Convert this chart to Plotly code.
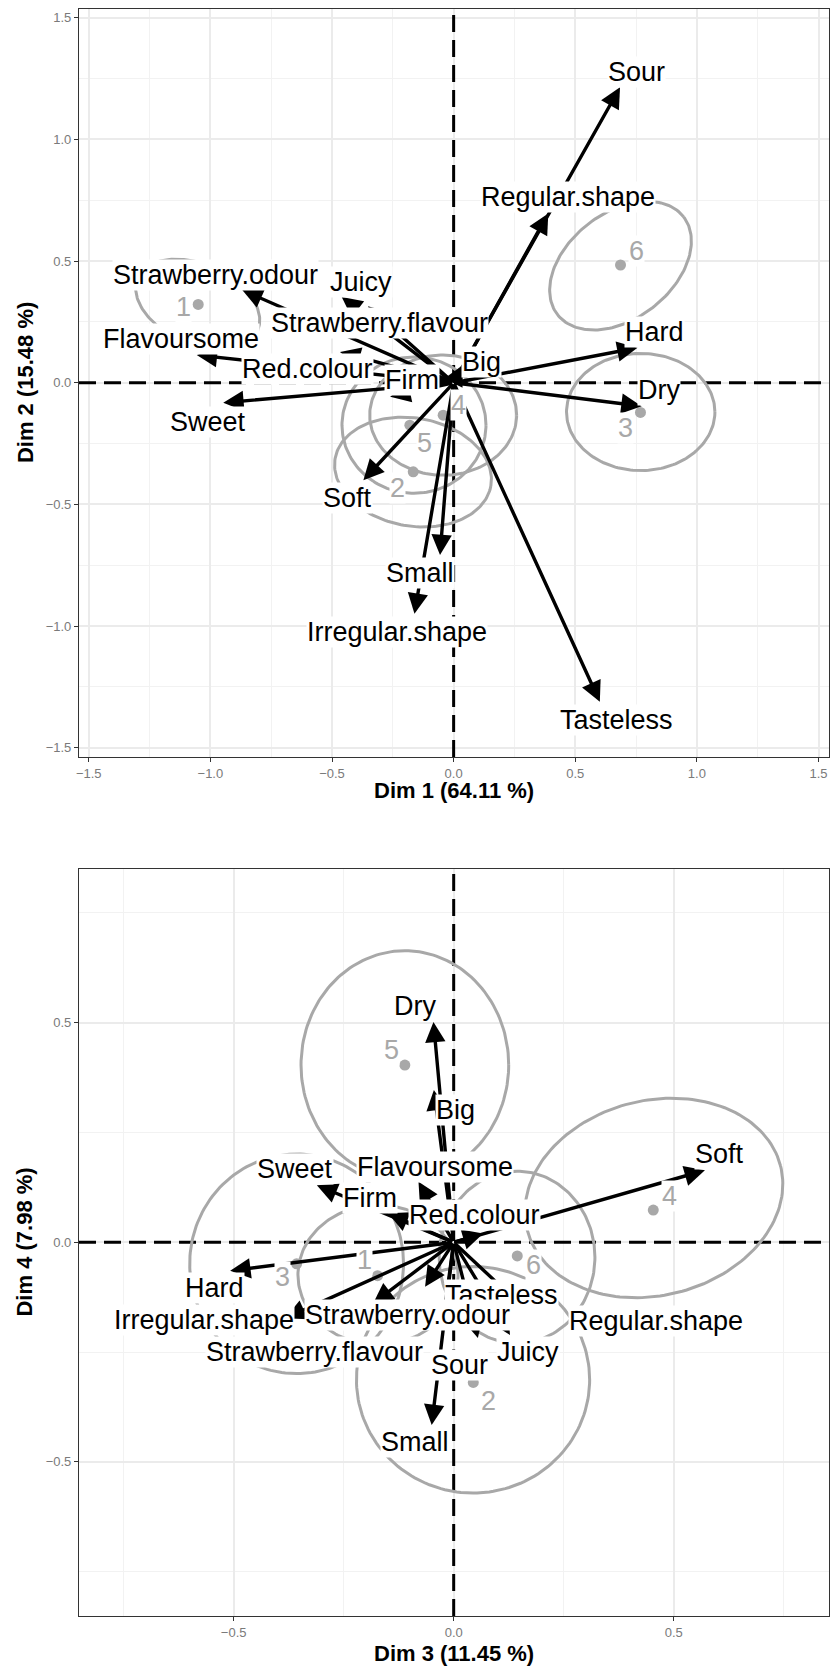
import numpy as np
import plotly.graph_objects as go
from plotly.subplots import make_subplots

# ---------------- data: top plot (Dim 1 / Dim 2) ----------------
variables = ["Sour", "Regular.shape", "Hard", "Dry", "Tasteless", "Small",
             "Irregular.shape", "Soft", "Sweet", "Firm", "Red.colour",
             "Flavoursome", "Strawberry.odour", "Juicy", "Strawberry.flavour", "Big"]

dim1 = [0.684, 0.389, 0.756, 0.773, 0.601, -0.056, -0.161, -0.371, -0.947,
        -0.261, -0.467, -1.056, -0.869, -0.460, -0.352, 0.038]
dim2 = [1.214, 0.696, 0.144, -0.096, -1.311, -0.708, -0.949, -0.400, -0.082,
        -0.057, 0.127, 0.114, 0.381, 0.353, 0.315, 0.073]
lab12_x = [0.752, 0.469, 0.825, 0.844, 0.670, -0.138, -0.234, -0.437, -1.009,
           -0.173, -0.601, -1.121, -0.977, -0.381, -0.303, 0.115]
lab12_y = [1.278, 0.764, 0.207, -0.030, -1.386, -0.782, -1.023, -0.475, -0.160,
           0.011, 0.055, 0.182, 0.443, 0.415, 0.245, 0.086]

products = ["1", "2", "3", "4", "5", "6"]
ind1 = [-1.050, -0.166, 0.768, -0.043, -0.180, 0.686]
ind2 = [0.322, -0.366, -0.122, -0.133, -0.174, 0.484]
plab12_x = [-1.112, -0.232, 0.708, 0.019, -0.121, 0.752]
plab12_y = [0.311, -0.434, -0.187, -0.092, -0.249, 0.543]

ell12_cx = [-1.052, -0.167, 0.769, -0.043, -0.163, 0.686]
ell12_cy = [0.323, -0.367, -0.120, -0.133, -0.174, 0.481]
ell12_a = [0.269, 0.325, 0.305, 0.302, 0.296, 0.328]
ell12_b = [0.164, 0.222, 0.241, 0.247, 0.280, 0.217]
ell12_ang = [-23.7, -10.0, 0.0, 0.0, 0.0, 37.8]

# ---------------- data: bottom plot (Dim 3 / Dim 4) ----------------
dim3 = [-0.027, 0.162, -0.508, -0.046, 0.055, -0.050, -0.383, 0.571, -0.311,
        -0.149, 0.067, -0.080, -0.065, 0.128, -0.183, -0.045]
dim4 = [-0.200, -0.152, -0.065, 0.502, -0.218, -0.416, -0.173, 0.164, 0.130,
        0.066, 0.020, 0.138, -0.101, -0.211, -0.139, 0.347]
lab34_x = [0.013, 0.460, -0.544, -0.088, 0.109, -0.087, -0.5675, 0.605, -0.361,
           -0.190, 0.048, -0.0425, -0.104, 0.1695, -0.3175, 0.003]
lab34_y = [-0.279, -0.1785, -0.105, 0.538, -0.120, -0.454, -0.177, 0.201, 0.168,
           0.100, 0.062, 0.172, -0.1655, -0.249, -0.250, 0.301]

ind3 = [-0.173, 0.0445, -0.357, 0.4536, -0.111, 0.1445]
ind4 = [-0.076, -0.319, -0.049, 0.0735, 0.4036, -0.031]
plab34_x = [-0.202, 0.080, -0.390, 0.491, -0.142, 0.181]
plab34_y = [-0.040, -0.362, -0.079, 0.105, 0.438, -0.051]

ell34_cx = [-0.172, 0.044, -0.357, 0.455, -0.111, 0.144]
ell34_cy = [-0.074, -0.313, -0.049, 0.101, 0.404, -0.034]
ell34_a = [0.182, 0.265, 0.243, 0.297, 0.236, 0.177]
ell34_b = [0.159, 0.258, 0.250, 0.222, 0.260, 0.196]
ell34_ang = [0.0, 0.0, 0.0, 14.2, 0.0, 0.0]

range12_x = [-1.540, 1.543]
range12_y = [-1.538, 1.536]
range34_x = [-0.8516, 0.853]
range34_y = [-0.851, 0.850]

FONT = "Liberation Sans"
GREY = "#A8A8A8"

fig = make_subplots(rows=2, cols=1, vertical_spacing=0.0697)


def ellipse_xy(cx, cy, a, b, ang):
    t = np.linspace(0, 2 * np.pi, 181)
    th = np.deg2rad(ang)
    x = cx + a * np.cos(t) * np.cos(th) - b * np.sin(t) * np.sin(th)
    y = cy + a * np.cos(t) * np.sin(th) + b * np.sin(t) * np.cos(th)
    return x, y


arrow_annots = []
label_annots = []


def add_panel(row, rx, ry, vx, vy, lx, ly, px, py, plx, ply, ecx, ecy, ea, eb, eang, xref, yref):
    dash_line = dict(color="black", width=3, dash="17px,8px")
    fig.add_trace(go.Scatter(x=[0, 0], y=ry, mode="lines", line=dash_line,
                             hoverinfo="skip", showlegend=False), row=row, col=1)
    fig.add_trace(go.Scatter(x=rx, y=[0, 0], mode="lines", line=dash_line,
                             hoverinfo="skip", showlegend=False), row=row, col=1)
    for i in range(len(ecx)):
        ex, ey = ellipse_xy(ecx[i], ecy[i], ea[i], eb[i], eang[i])
        fig.add_trace(go.Scatter(x=ex, y=ey, mode="lines",
                                 line=dict(color=GREY, width=3),
                                 hoverinfo="skip", showlegend=False), row=row, col=1)
    fig.add_trace(go.Scatter(x=px, y=py, mode="markers",
                             marker=dict(color=GREY, size=11),
                             hoverinfo="skip", showlegend=False), row=row, col=1)
    for i in range(len(vx)):
        arrow_annots.append(dict(x=vx[i], y=vy[i], ax=0, ay=0, xref=xref, yref=yref,
                                 axref=xref, ayref=yref, text="", showarrow=True,
                                 arrowhead=2, arrowsize=1.2, arrowwidth=3.4,
                                 arrowcolor="black", standoff=0, startstandoff=0))
    for i in range(len(vx)):
        label_annots.append(dict(x=lx[i], y=ly[i], xref=xref, yref=yref, text=variables[i],
                                 showarrow=False, bgcolor="white", borderpad=0,
                                 xanchor="center", yanchor="middle",
                                 font=dict(family=FONT, size=27, color="black")))
    for i in range(len(px)):
        label_annots.append(dict(x=plx[i], y=ply[i], xref=xref, yref=yref, text=products[i],
                                 showarrow=False, bgcolor="white", borderpad=0,
                                 xanchor="center", yanchor="middle",
                                 font=dict(family=FONT, size=27, color=GREY)))


add_panel(1, range12_x, range12_y, dim1, dim2, lab12_x, lab12_y, ind1, ind2, plab12_x, plab12_y,
          ell12_cx, ell12_cy, ell12_a, ell12_b, ell12_ang, "x", "y")
add_panel(2, range34_x, range34_y, dim3, dim4, lab34_x, lab34_y, ind3, ind4, plab34_x, plab34_y,
          ell34_cx, ell34_cy, ell34_a, ell34_b, ell34_ang, "x2", "y2")

axis_common = dict(showline=True, mirror=True, linecolor="#333333", linewidth=1.2,
                   ticks="outside", ticklen=4, tickcolor="#333333", tickwidth=1,
                   showgrid=True, gridcolor="#EBEBEB", gridwidth=2,
                   zeroline=False, tickformat=".1f", automargin=False,
                   tickfont=dict(family=FONT, size=13, color="#7a7a7a"))
minor = dict(dtick=0.25, tick0=0, showgrid=True, gridcolor="#F2F2F2", gridwidth=1, ticklen=0)

fig.update_xaxes(range=range12_x, dtick=0.5, tick0=0, minor=minor,
                 row=1, col=1, **axis_common)
fig.update_yaxes(range=range12_y, dtick=0.5, tick0=0, minor=minor,
                 row=1, col=1, **axis_common)
fig.update_xaxes(range=range34_x, dtick=0.5, tick0=0, minor=minor,
                 row=2, col=1, **axis_common)
fig.update_yaxes(range=range34_y, dtick=0.5, tick0=0, minor=minor,
                 row=2, col=1, **axis_common)

fig.update_layout(
    yaxis=dict(domain=[0.5345, 1.0]),
    yaxis2=dict(domain=[0.0, 0.4648]),
)

title_font = dict(family=FONT, size=22, color="black")
title_annots = [
    dict(x=0.5, y=0.514, xref="paper", yref="paper", text="<b>Dim 1 (64.11 %)</b>",
         showarrow=False, font=title_font, xanchor="center", yanchor="middle"),
    dict(x=0.5, y=-0.0235, xref="paper", yref="paper", text="<b>Dim 3 (11.45 %)</b>",
         showarrow=False, font=title_font, xanchor="center", yanchor="middle"),
    dict(x=-0.072, y=0.7672, xref="paper", yref="paper", text="<b>Dim 2 (15.48 %)</b>",
         showarrow=False, textangle=-90, font=title_font, xanchor="center", yanchor="middle"),
    dict(x=-0.072, y=0.2324, xref="paper", yref="paper", text="<b>Dim 4 (7.98 %)</b>",
         showarrow=False, textangle=-90, font=title_font, xanchor="center", yanchor="middle"),
]

fig.update_layout(
    width=831, height=1668,
    margin=dict(l=79, r=2, t=9, b=52, autoexpand=False),
    paper_bgcolor="white", plot_bgcolor="white",
    annotations=arrow_annots + label_annots + title_annots,
    showlegend=False,
)

fig.write_html("out.html", config={"displayModeBar": False},
               post_script="document.documentElement.style.margin='0';"
                           "document.body.style.margin='0';document.body.style.padding='0';")
